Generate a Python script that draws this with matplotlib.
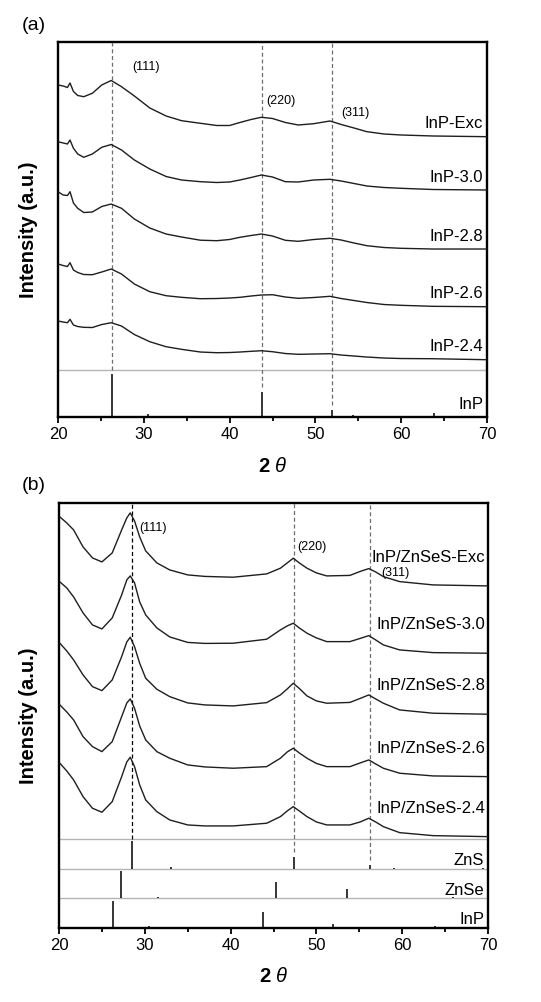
import numpy as np
import matplotlib
matplotlib.use('Agg')
import matplotlib.pyplot as plt
from matplotlib.ticker import MultipleLocator

plt.rcParams['font.family'] = ['Liberation Sans', 'DejaVu Sans']
plt.rcParams['mathtext.fontset'] = 'custom'
plt.rcParams['mathtext.rm'] = 'Liberation Sans'
plt.rcParams['mathtext.it'] = 'Liberation Sans:italic'
plt.rcParams['mathtext.bf'] = 'Liberation Sans:bold'

# ---------------- data (stacked intensities, a.u., as plotted) ----------------
# panel (a): InP cores
tth_a = [20.0, 20.6, 21.1, 21.4, 21.8, 22.3, 23.0, 24.0, 25.1, 26.2, 27.4, 28.9, 30.7,
         32.6, 34.4, 36.6, 38.5, 40.0, 41.2, 42.5, 43.7, 45.0, 46.5, 48.0, 49.8, 51.7,
         53.0, 54.5, 56.0, 58.0, 60.0, 63.7, 70.0]
inp_exc = [332, 331, 329.5, 334, 325.5, 321.5, 320.3, 323.7, 332, 336.5, 330.3, 321, 309,
           301, 296.3, 293.7, 291.5, 291.5, 294.5, 297.5, 299.7, 298.5, 294.5, 292, 293.3, 296,
           292.5, 289, 285.3, 283, 282, 281, 280.3]
inp_30 = [275.3, 274, 273, 277, 268.7, 263, 259.7, 263, 269.7, 272.5, 267, 257, 248,
          240.5, 237, 235.3, 234.5, 235, 237, 239.5, 242, 240, 235.3, 235, 237, 237.7,
          236, 233.5, 231, 229.5, 228.7, 227.5, 227]
inp_28 = [225.3, 222, 221.5, 225.3, 214, 208.7, 204.5, 205, 210.5, 213, 208.7, 198, 189,
          183, 180, 176.8, 176.3, 177.5, 179.7, 181.5, 183, 181, 176.7, 175.7, 177.5, 178.7,
          177, 174, 171.3, 169.5, 168.7, 168, 168]
inp_26 = [153, 151.5, 150.5, 154.3, 147, 144.5, 142.5, 142.3, 145, 148, 143, 133, 125.3,
          121.3, 119.7, 118.3, 118.5, 119, 119.7, 121, 122, 122.3, 120, 118.7, 119.5, 120.7,
          118.5, 116.5, 114.5, 112.5, 111.7, 110.7, 110.3]
inp_24 = [96, 95, 94.3, 97.7, 92, 90.5, 89.7, 89.5, 92.5, 94.3, 91, 82.5, 75.3,
          70.3, 67.7, 65, 64.3, 64.5, 65, 65.7, 66.3, 65.3, 63.5, 62.7, 63, 63.3,
          62, 61, 60, 59, 58.5, 58.3, 57.3]
names_a = ['InP-Exc', 'InP-3.0', 'InP-2.8', 'InP-2.6', 'InP-2.4']

# panel (b): InP/ZnSeS core/shell
tth_b = [20.1, 20.9, 21.7, 22.8, 23.9, 25.0, 26.2, 27.3, 27.9, 28.3, 28.8, 29.4, 30.1,
         31.4, 32.9, 35.0, 37.0, 40.3, 44.2, 45.8, 46.6, 47.3, 48.0, 48.9, 50.0, 51.2,
         53.9, 55.1, 56.1, 56.9, 57.8, 59.7, 63.6, 70.0]
cs_exc = [411, 405, 398, 381, 370, 366, 375, 398, 410, 415, 407, 391, 377,
          365, 358, 353, 351.5, 350.7, 354, 359.7, 365, 369.7, 365, 359.7, 355, 352,
          352.5, 356.5, 359.3, 356, 351.3, 346.3, 343, 342]
cs_30 = [346, 340, 331, 315, 303, 299, 310, 333, 348, 352, 345, 326, 313,
         300, 291, 285.5, 284.5, 284.7, 288.7, 298, 302, 304.7, 300, 294.7, 290, 286.3,
         286.3, 289.5, 292.3, 288, 283, 278, 275.3, 274.7]
cs_28 = [284.7, 277, 268, 253, 241.3, 237.3, 248, 271.3, 286, 290.7, 281.3, 264.7, 249.7,
         238.7, 231.3, 225, 223, 222, 225.3, 233, 239, 244.7, 239.5, 232, 227, 224.7,
         225.5, 229.5, 233, 229, 224.7, 218, 214.7, 213.7]
cs_26 = [223, 216, 208, 191.3, 181.3, 176.3, 186.3, 211.3, 225, 229, 219.7, 202, 188,
         176.3, 169.7, 163, 161, 159.7, 161.3, 169.7, 176, 179.7, 175, 169.7, 164.5, 161.3,
         161.3, 165, 168, 164, 159.7, 154.7, 152, 151.3]
cs_24 = [164.7, 157, 148, 131.3, 119.7, 115.7, 126.3, 151.3, 166, 170.7, 161.3, 143, 128,
         116.3, 108, 103, 102, 102, 104.7, 111.3, 117, 121.3, 117, 111.3, 106, 103,
         103, 106, 109.7, 106, 101.3, 95.3, 92.3, 91.3]
names_b = ['InP/ZnSeS-Exc', 'InP/ZnSeS-3.0', 'InP/ZnSeS-2.8', 'InP/ZnSeS-2.6', 'InP/ZnSeS-2.4']

# reference cards (peak position, relative intensity %)
inp_pos = [26.3, 30.5, 43.8, 51.9, 54.4, 63.8]
inp_rel = [100, 6, 58, 16, 4, 9]
zns_pos = [28.5, 33.0, 47.4, 56.2, 59.0, 69.4]
zns_rel = [100, 5, 44, 14, 3, 3]
znse_pos = [27.2, 31.5, 45.3, 53.6, 56.2, 65.9]
znse_rel = [100, 3, 61, 33, 2, 5]

hkl = ['(111)', '(220)', '(311)']
hkl_a_x = [30.2, 46.0, 54.7]
hkl_a_y = [349.7, 316.3, 303.7]
hkl_b_x = [30.9, 49.45, 59.2]
hkl_b_y = [400, 381, 355]

# ---------------- figure ----------------
fig = plt.figure(figsize=(5.41, 10.02), dpi=100)
ax_a = fig.add_axes([0.1072, 0.5838, 0.793, 0.3743])
ax_b = fig.add_axes([0.1091, 0.0739, 0.793, 0.4242])

curve_color = '#1e1e1e'
gray_line = '#b4b4b4'


def style_axes(ax, ytop, xlab_y, ylab_x):
    ax.set_xlim(20, 70)
    ax.set_ylim(0, ytop)
    ax.set_yticks([])
    ax.xaxis.set_major_locator(MultipleLocator(10))
    ax.xaxis.set_minor_locator(MultipleLocator(5))
    ax.tick_params(axis='x', which='major', direction='out', length=4.5, width=1.3,
                   labelsize=12, pad=3)
    ax.tick_params(axis='x', which='minor', direction='out', length=2.6, width=1.3)
    for sp in ax.spines.values():
        sp.set_linewidth(1.7)
        sp.set_color('black')
    ax.set_xlabel(r'$\mathbf{2}\ \theta$', fontsize=14.5)
    ax.xaxis.set_label_coords(0.5, xlab_y)
    ax.set_ylabel('Intensity (a.u.)', fontsize=14.5, fontweight='bold')
    ax.yaxis.set_label_coords(ylab_x, 0.5)


def draw_card(ax, base, h, pos, rel, name, lab_frac):
    ax.axhline(base + h, color=gray_line, lw=1.0, zorder=1)
    hs = [base + h * 0.915 * r / 100.0 for r in rel]
    ax.vlines(pos, base, hs, color='black', lw=1.1, zorder=3)
    ax.text(69.55, base + h * lab_frac, name, ha='right', va='baseline', fontsize=12)
    return hs


def draw_dashed(ax, pos, ends, ytop, colors):
    for p, e, c in zip(pos, ends, colors):
        ax.plot([p, p], [e, ytop], color=c, lw=0.9, ls=(0, (3.2, 2.2)), zorder=2)


# ---- panel (a)
ytop_a = 375
h_a = 47
for y, name in zip([inp_exc, inp_30, inp_28, inp_26, inp_24], names_a):
    ax_a.plot(tth_a, y, color=curve_color, lw=1.0, zorder=4)
    ax_a.text(69.55, y[-1] + 8.5, name, ha='right', va='baseline', fontsize=12)
tops = draw_card(ax_a, 0, h_a, inp_pos, inp_rel, 'InP', 0.165)
ends_a = [min(tops[inp_pos.index(p)] + 5, h_a) for p in [26.3, 43.8, 51.9]]
draw_dashed(ax_a, [26.3, 43.8, 51.9], ends_a, ytop_a, ['#6e6e6e'] * 3)
for t, x, y in zip(hkl, hkl_a_x, hkl_a_y):
    ax_a.text(x, y, t, ha='center', va='center', fontsize=9)
style_axes(ax_a, ytop_a, -0.107, -0.047)

# ---- panel (b)
ytop_b = 425
h_b = 29.7
for y, name in zip([cs_exc, cs_30, cs_28, cs_26, cs_24], names_b):
    ax_b.plot(tth_b, y, color=curve_color, lw=1.0, zorder=4)
    ax_b.text(69.65, y[-1] + 24, name, ha='right', va='baseline', fontsize=12)
tops_zns = draw_card(ax_b, 2 * h_b, h_b, zns_pos, zns_rel, 'ZnS', 0.125)
draw_card(ax_b, h_b, h_b, znse_pos, znse_rel, 'ZnSe', 0.125)
draw_card(ax_b, 0, h_b, inp_pos, inp_rel, 'InP', 0.14)
ends_b = [min(tops_zns[zns_pos.index(p)] + 5, 3 * h_b) for p in [28.5, 47.4, 56.2]]
draw_dashed(ax_b, [28.5, 47.4, 56.2], ends_b, ytop_b, ['black', '#6e6e6e', '#6e6e6e'])
for t, x, y in zip(hkl, hkl_b_x, hkl_b_y):
    ax_b.text(x, y, t, ha='center', va='center', fontsize=9)
style_axes(ax_b, ytop_b, -0.092, -0.049)

fig.text(0.0407, 1 - 25 / 1002, '(a)', fontsize=14, ha='left', va='center')
fig.text(0.0407, 1 - 486 / 1002, '(b)', fontsize=14, ha='left', va='center')

fig.savefig('out.png', dpi=100)
